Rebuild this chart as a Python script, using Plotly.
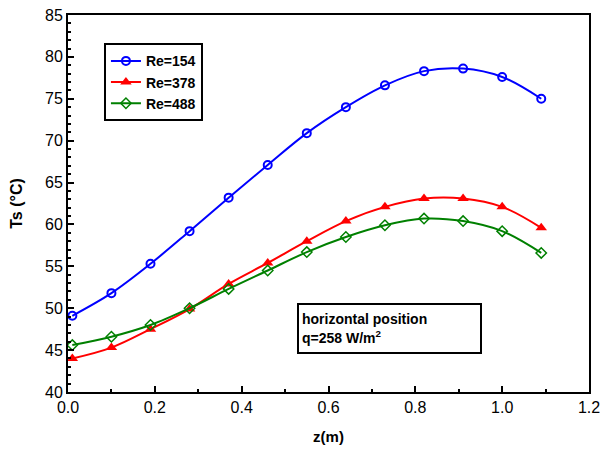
import plotly.graph_objects as go

# axial position along the tube (m)
z = [0.01, 0.10, 0.19, 0.28, 0.37, 0.46, 0.55, 0.64, 0.73, 0.82, 0.91, 1.00, 1.09]

# surface temperature Ts (C) for each Reynolds number
ts_re154 = [49.1, 51.8, 55.3, 59.2, 63.2, 67.1, 70.9, 74.0, 76.6, 78.3, 78.6, 77.6, 75.0]
ts_re378 = [44.0, 45.3, 47.5, 49.9, 52.9, 55.4, 58.0, 60.4, 62.1, 63.1, 63.1, 62.1, 59.6]
ts_re488 = [45.6, 46.6, 48.0, 50.0, 52.3, 54.5, 56.7, 58.5, 59.9, 60.7, 60.4, 59.2, 56.6]

series_names = ['Re=154', 'Re=378', 'Re=488']

font_main = 'Liberation Sans, Arial, sans-serif'

fig = go.Figure()

fig.add_trace(go.Scatter(x=z, y=ts_re154, name='<b>' + series_names[0] + '</b>', mode='lines+markers',
                         line=dict(color='#0000ff', width=2, shape='spline'),
                         marker=dict(symbol='circle-open', size=8, color='#0000ff',
                                     line=dict(width=2))))
fig.add_trace(go.Scatter(x=z, y=ts_re378, name='<b>' + series_names[1] + '</b>', mode='lines+markers',
                         line=dict(color='#ff0000', width=2, shape='spline'),
                         marker=dict(symbol='triangle-up', size=10, color='#ff0000')))
fig.add_trace(go.Scatter(x=z, y=ts_re488, name='<b>' + series_names[2] + '</b>', mode='lines+markers',
                         line=dict(color='#008000', width=2, shape='spline'),
                         marker=dict(symbol='diamond-open', size=8, color='#008000',
                                     line=dict(width=1.5))))

# text box with the test conditions
fig.add_annotation(xref='paper', yref='paper', x=0.439, y=0.236,
                   xanchor='left', yanchor='top', align='left', showarrow=False,
                   text='<b>horizontal position</b><br><b>q=258 W/m<sup>2</sup></b>',
                   font=dict(family=font_main, size=14, color='black'),
                   bordercolor='black', borderwidth=2, borderpad=3, bgcolor='white',
                   width=175, height=41)

axis_common = dict(showline=True, linecolor='black', linewidth=2, mirror=True,
                   ticks='inside', ticklen=6, tickwidth=1.5, tickcolor='black',
                   showgrid=False, zeroline=False, automargin=False,
                   tickfont=dict(family=font_main, size=16, color='black'))

fig.update_layout(
    width=603, height=454,
    margin=dict(l=68, r=14, t=15, b=62),
    plot_bgcolor='white', paper_bgcolor='white',
    xaxis=dict(range=[0, 1.2], dtick=0.2, tickformat='.1f',
               minor=dict(dtick=0.1, ticks='inside', ticklen=3, tickcolor='black'),
               title=dict(text='<b>z(m)</b>', font=dict(family=font_main, size=15, color='black'),
                          standoff=16),
               **axis_common),
    yaxis=dict(range=[40, 85], dtick=5,
               minor=dict(dtick=1, ticks='inside', ticklen=3, tickcolor='black'),
               title=dict(text='<b>Ts (°C)</b>', font=dict(family=font_main, size=16, color='black'),
                          standoff=18),
               **axis_common),
    legend=dict(x=0.069, y=0.925, xanchor='left', yanchor='top',
                bordercolor='black', borderwidth=2, bgcolor='white',
                font=dict(family=font_main, size=14, color='black'),
                itemwidth=30, tracegroupgap=0),
    showlegend=True,
)

# drop the page's default body margin so the figure sits at the window's corner
fig.write_html('out.html', config={'displayModeBar': False},
               post_script="document.body.style.margin='0';")
